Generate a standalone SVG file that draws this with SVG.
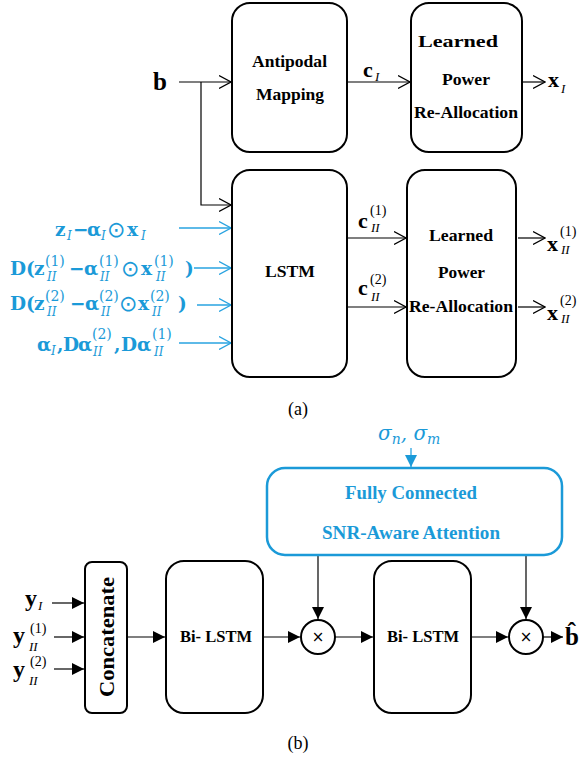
<svg xmlns="http://www.w3.org/2000/svg" width="584" height="762" viewBox="0 0 584 762">
<defs>
<style>
.box{fill:#fff;stroke:#000;stroke-width:2}
.bbox{fill:#fff;stroke:#1b9ad8;stroke-width:2.5}
.lbl{font-family:"Liberation Serif","Times New Roman",serif;font-weight:bold;font-size:17.5px;text-anchor:middle;fill:#000}
.blbl{font-family:"Liberation Serif","Times New Roman",serif;font-weight:bold;font-size:18.5px;text-anchor:middle;fill:#1b9ad8}
.m{font-family:"Liberation Serif","Times New Roman",serif;font-weight:bold;fill:#000}
.bm{font-family:"DejaVu Serif","Liberation Serif",serif;font-weight:bold;fill:#1b9ad8;font-size:18.5px}
.sub{font-style:italic;font-size:13px;font-weight:normal}
.sup{font-size:14px;font-weight:normal}
.bm .sup{font-size:14px}
.bm .sub{font-size:12px}
.odot{font-family:"DejaVu Sans",sans-serif;font-size:22px;font-weight:normal}
.ln{stroke:#000;stroke-width:1.2;fill:none}
.bln{stroke:#29a3e0;stroke-width:1.3;fill:none}
.cap{font-family:"Liberation Serif","Times New Roman",serif;font-size:18px;text-anchor:middle;fill:#000}
</style>
<marker id="open" viewBox="0 0 13 14" refX="12" refY="7" markerWidth="13" markerHeight="14" markerUnits="userSpaceOnUse" orient="auto">
<path d="M0,0.5 L12,7 L0,13.5" fill="none" stroke="#000" stroke-width="1.2"/>
</marker>
<marker id="bopen" viewBox="0 0 13 14" refX="12" refY="7" markerWidth="13" markerHeight="14" markerUnits="userSpaceOnUse" orient="auto">
<path d="M0,0.5 L12,7 L0,13.5" fill="none" stroke="#29a3e0" stroke-width="1.3"/>
</marker>
<marker id="fill" viewBox="0 0 12 12" refX="12" refY="6" markerWidth="12" markerHeight="12" markerUnits="userSpaceOnUse" orient="auto">
<path d="M0,0 L12,6 L0,12 Z" fill="#000"/>
</marker>
<marker id="bfill" viewBox="0 0 12 12" refX="12" refY="6" markerWidth="12" markerHeight="12" markerUnits="userSpaceOnUse" orient="auto">
<path d="M0,0 L12,6 L0,12 Z" fill="#1b9ad8"/>
</marker>
</defs>
<rect width="584" height="762" fill="#fff"/>

<g id="connectors">
<!-- (a) -->
<path class="ln" d="M179,82 H231" marker-end="url(#open)"/>
<path class="ln" d="M201,82 V205 H231" marker-end="url(#open)"/>
<path class="ln" d="M347,82 H410" marker-end="url(#open)"/>
<path class="ln" d="M522,82 H545" marker-end="url(#open)"/>
<path class="ln" d="M347,238 H406" marker-end="url(#open)"/>
<path class="ln" d="M347,307 H406" marker-end="url(#open)"/>
<path class="ln" d="M518,238 H545" marker-end="url(#open)"/>
<path class="ln" d="M518,307 H545" marker-end="url(#open)"/>
<path class="bln" d="M179,228 H231" marker-end="url(#bopen)"/>
<path class="bln" d="M194,268 H231" marker-end="url(#bopen)"/>
<path class="bln" d="M197,305 H231" marker-end="url(#bopen)"/>
<path class="bln" d="M179,343 H231" marker-end="url(#bopen)"/>
<!-- (b) -->
<path class="bln" d="M411,448 V467" marker-end="url(#bfill)"/>
<path class="ln" d="M52,603 H84" marker-end="url(#fill)"/>
<path class="ln" d="M54,637 H84" marker-end="url(#fill)"/>
<path class="ln" d="M54,669 H84" marker-end="url(#fill)"/>
<path class="ln" d="M127,637 H165" marker-end="url(#fill)"/>
<path class="ln" d="M263,637 H300" marker-end="url(#fill)"/>
<path class="ln" d="M335,637 H373" marker-end="url(#fill)"/>
<path class="ln" d="M471,637 H508" marker-end="url(#fill)"/>
<path class="ln" d="M543,637 H563" marker-end="url(#fill)"/>
<path class="ln" d="M318,555 V619" marker-end="url(#fill)"/>
<path class="ln" d="M526,555 V619" marker-end="url(#fill)"/>
</g>

<g id="antipodal">
<rect class="box" x="232" y="3" width="115" height="149" rx="18"/>
<text class="lbl" x="289.5" y="67" textLength="75" lengthAdjust="spacingAndGlyphs">Antipodal</text>
<text class="lbl" x="290" y="100" textLength="68" lengthAdjust="spacingAndGlyphs">Mapping</text>
</g>
<g id="power1">
<rect class="box" x="411" y="3" width="111" height="149" rx="18"/>
<text class="lbl" x="458" y="47" textLength="80" lengthAdjust="spacingAndGlyphs">Learned</text>
<text class="lbl" x="466" y="85" textLength="48" lengthAdjust="spacingAndGlyphs">Power</text>
<text class="lbl" x="466" y="118" textLength="104" lengthAdjust="spacingAndGlyphs">Re-Allocation</text>
</g>
<g id="lstm">
<rect class="box" x="232" y="170" width="115" height="207" rx="18"/>
<text class="lbl" x="290" y="277" textLength="50" lengthAdjust="spacingAndGlyphs">LSTM</text>
</g>
<g id="power2">
<rect class="box" x="407" y="170" width="109" height="207" rx="18"/>
<text class="lbl" x="461" y="241" textLength="64" lengthAdjust="spacingAndGlyphs">Learned</text>
<text class="lbl" x="461.5" y="278" textLength="47" lengthAdjust="spacingAndGlyphs">Power</text>
<text class="lbl" x="461" y="312" textLength="104" lengthAdjust="spacingAndGlyphs">Re-Allocation</text>
</g>

<g id="labels-a">
<text class="m" x="153" y="90" font-size="25">b</text>
<text class="m" x="363" y="77" font-size="22">c<tspan class="sub" x="375" y="81">I</tspan></text>
<text class="m" x="548" y="87" font-size="22">x<tspan class="sub" x="561" y="93">I</tspan></text>
<text class="m" x="358" y="228" font-size="22">c<tspan class="sup" x="370" y="215">(1)</tspan><tspan class="sub" x="371" y="232">II</tspan></text>
<text class="m" x="358" y="295" font-size="22">c<tspan class="sup" x="370" y="284">(2)</tspan><tspan class="sub" x="371" y="301">II</tspan></text>
<text class="m" x="547" y="251" font-size="22">x<tspan class="sup" x="560" y="236">(1)</tspan><tspan class="sub" x="561" y="254">II</tspan></text>
<text class="m" x="547" y="320" font-size="22">x<tspan class="sup" x="560" y="305">(2)</tspan><tspan class="sub" x="561" y="323">II</tspan></text>
</g>

<g id="inputs-a">
<text class="bm" x="55" y="236">z<tspan class="sub" x="67" y="240">I</tspan><tspan x="73" y="236">−</tspan><tspan x="87" y="236">α</tspan><tspan class="sub" x="101" y="240">I</tspan><tspan class="odot" x="107" y="237">⊙</tspan><tspan x="127" y="236">x</tspan><tspan class="sub" x="141" y="240">I</tspan></text>
<text class="bm" x="10" y="275">D<tspan x="26">(</tspan><tspan x="34">z</tspan><tspan class="sup" x="45" y="266">(1)</tspan><tspan class="sub" x="47" y="281">II</tspan><tspan x="69" y="275">−</tspan><tspan x="84">α</tspan><tspan class="sup" x="99" y="266">(1)</tspan><tspan class="sub" x="100" y="281">II</tspan><tspan class="odot" x="121" y="276">⊙</tspan><tspan x="141" y="275">x</tspan><tspan class="sup" x="154" y="266">(1)</tspan><tspan class="sub" x="156" y="281">II</tspan><tspan x="185" y="275">)</tspan></text>
<text class="bm" x="10" y="310">D<tspan x="26">(</tspan><tspan x="34">z</tspan><tspan class="sup" x="45" y="301">(2)</tspan><tspan class="sub" x="47" y="316">II</tspan><tspan x="70" y="310">−</tspan><tspan x="85">α</tspan><tspan class="sup" x="99" y="301">(2)</tspan><tspan class="sub" x="101" y="316">II</tspan><tspan class="odot" x="119" y="311">⊙</tspan><tspan x="138" y="310">x</tspan><tspan class="sup" x="150" y="301">(2)</tspan><tspan class="sub" x="152" y="316">II</tspan><tspan x="178" y="310">)</tspan></text>
<text class="bm" x="37" y="351">α<tspan class="sub" x="51" y="355">I</tspan><tspan x="57" y="351">,</tspan><tspan x="63">D</tspan><tspan x="78">α</tspan><tspan class="sup" x="92" y="339">(2)</tspan><tspan class="sub" x="93" y="356">II</tspan><tspan x="114" y="351">,</tspan><tspan x="121">D</tspan><tspan x="137">α</tspan><tspan class="sup" x="152" y="339">(1)</tspan><tspan class="sub" x="154" y="356">II</tspan></text>
</g>

<text class="cap" x="298" y="415">(a)</text>

<g id="sigma">
<text x="378" y="440" font-family="'DejaVu Serif','Liberation Serif',serif" font-style="italic" font-size="20" fill="#1b9ad8">σ<tspan font-size="14" y="444">n</tspan><tspan y="440">, σ</tspan><tspan font-size="14" y="444">m</tspan></text>
</g>
<g id="attention">
<rect class="bbox" x="267" y="468" width="295" height="87" rx="18"/>
<text class="blbl" x="411" y="499" textLength="132" lengthAdjust="spacingAndGlyphs">Fully Connected</text>
<text class="blbl" x="411" y="539" textLength="178" lengthAdjust="spacingAndGlyphs">SNR-Aware Attention</text>
</g>
<g id="concatenate">
<rect class="box" x="85" y="562" width="42" height="151" rx="7" stroke-width="2.5"/>
<text class="lbl" x="114" y="637" transform="rotate(-90 114 637)" textLength="120" lengthAdjust="spacingAndGlyphs" style="font-size:22px">Concatenate</text>
</g>
<g id="bilstm1">
<rect class="box" x="166" y="561" width="97" height="152" rx="18" stroke-width="2.5"/>
<text class="lbl" x="216" y="642" textLength="72" lengthAdjust="spacingAndGlyphs">Bi- LSTM</text>
</g>
<g id="mult1">
<circle cx="318" cy="637" r="17" fill="#fff" stroke="#000" stroke-width="2"/>
<text x="318" y="642" font-family="'DejaVu Sans',sans-serif" font-size="15" text-anchor="middle">×</text>
</g>
<g id="bilstm2">
<rect class="box" x="374" y="561" width="97" height="152" rx="18" stroke-width="2.5"/>
<text class="lbl" x="423" y="642" textLength="72" lengthAdjust="spacingAndGlyphs">Bi- LSTM</text>
</g>
<g id="mult2">
<circle cx="526" cy="637" r="17" fill="#fff" stroke="#000" stroke-width="2"/>
<text x="526" y="642" font-family="'DejaVu Sans',sans-serif" font-size="15" text-anchor="middle">×</text>
</g>
<g id="labels-b">
<text class="m" x="25" y="606" font-size="24">y<tspan class="sub" x="38" y="610">I</tspan></text>
<text class="m" x="13" y="643" font-size="24">y<tspan class="sup" x="30" y="633">(1)</tspan><tspan class="sub" x="29" y="651">II</tspan></text>
<text class="m" x="13" y="677" font-size="24">y<tspan class="sup" x="30" y="666">(2)</tspan><tspan class="sub" x="29" y="685">II</tspan></text>
<text class="m" x="565" y="645" font-size="25">b̂</text>
</g>
<text class="cap" x="298" y="749">(b)</text>
</svg>
